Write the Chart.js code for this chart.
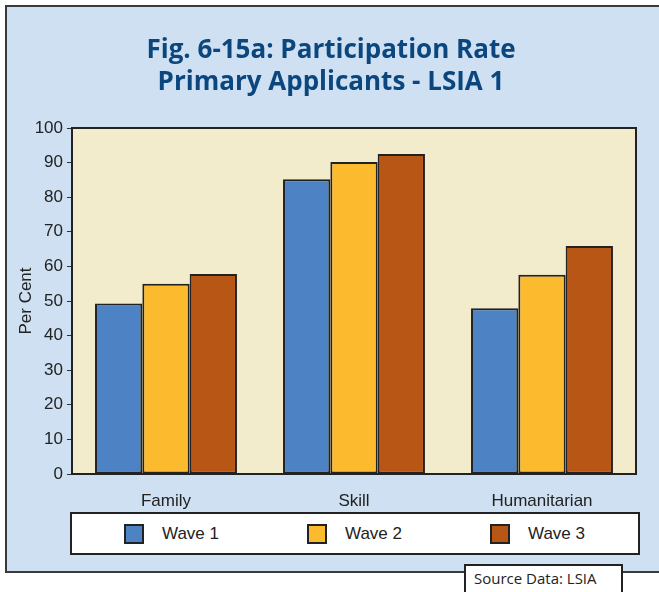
<!DOCTYPE html>
<html>
<head>
<meta charset="utf-8">
<script src="https://cdn.jsdelivr.net/npm/chart.js@4.4.3/dist/chart.umd.min.js"></script>
<style>
    html, body { margin: 0; padding: 0; background: #fff; overflow: hidden; }
    #stage { position: relative; width: 659px; height: 592px; overflow: hidden; }
    #panel {
        position: absolute; left: 5px; top: 5px; width: 700px; height: 568px;
        box-sizing: border-box; background: #cee0f1; border: 2px solid #3a3a3a;
    }
    #chart { position: absolute; left: 0; top: 0; }
    #title {
        position: absolute; left: 0; top: 32px; width: 662px; text-align: center;
        font: bold 26px "Open Sans", sans-serif; line-height: 32px; color: #0b477e;
    }
    #legend {
        position: absolute; left: 70px; top: 512px; width: 570px; height: 43px;
        box-sizing: border-box; background: #fff; border: 2px solid #222;
    }
    .swatch { position: absolute; top: 10px; width: 20px; height: 20px; box-sizing: border-box; border: 2px solid #222; }
    .label { position: absolute; top: 9px; font: 17px "Liberation Sans", Arial, sans-serif; color: #222; line-height: 22px; }
    #source {
        position: absolute; left: 464px; top: 564px; width: 159px; height: 40px;
        box-sizing: border-box; background: #fff; border: 2px solid #222;
        font: 15px "Open Sans", sans-serif; color: #222; padding: 2px 0 0 8px;
    }
</style>
</head>
<body>
<div id="stage">
    <div id="panel"></div>
    <canvas id="chart" width="659" height="592"></canvas>
    <div id="title"></div>
    <div id="legend"></div>
    <div id="source">Source Data: LSIA</div>
</div>
<script>
// Values (per cent)
const categories = ['Family', 'Skill', 'Humanitarian'];
const seriesNames = ['Wave 1', 'Wave 2', 'Wave 3'];
const wave1 = [49.3, 85.2, 47.9];
const wave2 = [55.0, 90.2, 57.6];
const wave3 = [57.8, 92.5, 65.9];
const yTicks = [0, 10, 20, 30, 40, 50, 60, 70, 80, 90, 100];
const titleLines = ['Fig. 6-15a: Participation Rate', 'Primary Applicants - LSIA 1'];

const colors = ['#4d83c5', '#fcbb2e', '#b85616'];
const edge = '#222';
const axisFont = { family: '"Liberation Sans", Arial, sans-serif', size: 17 };

// plot background + frame around chart area
const plotFrame = {
    id: 'plotFrame',
    beforeDraw(chart) {
        const { ctx, chartArea: a } = chart;
        ctx.save();
        ctx.fillStyle = '#f2ebcc';
        ctx.fillRect(a.left, a.top, a.right - a.left, a.bottom - a.top);
        ctx.restore();
    },
    afterDatasetsDraw(chart) {
        const { ctx, chartArea: a } = chart;
        ctx.save();
        ctx.strokeStyle = edge;
        ctx.lineWidth = 2;
        ctx.strokeRect(a.left, a.top, a.right - a.left, a.bottom - a.top);
        ctx.restore();
    }
};

const datasets = [wave1, wave2, wave3].map((vals, i) => ({
    label: seriesNames[i],
    data: vals,
    backgroundColor: colors[i],
    borderColor: edge,
    borderWidth: 2,
    borderSkipped: false,
    categoryPercentage: 0.755,
    barPercentage: 1.0
}));

const chart = new Chart(document.getElementById('chart'), {
    type: 'bar',
    data: { labels: categories, datasets },
    options: {
        responsive: false,
        animation: false,
        devicePixelRatio: 1,
        layout: { padding: { left: 6, right: 23, top: 128, bottom: 78 } },
        scales: {
            x: {
                grid: { display: false },
                border: { display: false },
                ticks: { font: axisFont, color: edge, padding: 9 },
                afterFit(scale) { scale.height = 40; }
            },
            y: {
                min: 0,
                max: 100,
                afterBuildTicks(scale) { scale.ticks = yTicks.map(v => ({ value: v })); },
                ticks: { font: axisFont, color: edge, padding: 4 },
                grid: { drawOnChartArea: false, drawTicks: true, tickLength: 5, color: '#333', lineWidth: 1 },
                border: { display: false },
                title: {
                    display: true, text: 'Per Cent', color: edge,
                    font: axisFont, padding: { top: 10, bottom: 0 }
                },
                afterFit(scale) { scale.width = 66; }
            }
        },
        plugins: {
            legend: { display: false },
            tooltip: { enabled: false },
            title: { display: false }
        }
    },
    plugins: [plotFrame]
});

// title text
const titleEl = document.getElementById('title');
titleLines.forEach(line => {
    const d = document.createElement('div');
    d.textContent = line;
    titleEl.appendChild(d);
});

// HTML legend built from the datasets
const legend = document.getElementById('legend');
chart.data.datasets.forEach((ds, i) => {
    const sw = document.createElement('div');
    sw.className = 'swatch';
    sw.style.left = (52 + i * 183) + 'px';
    sw.style.background = ds.backgroundColor;
    legend.appendChild(sw);
    const lb = document.createElement('div');
    lb.className = 'label';
    lb.style.left = (90 + i * 183) + 'px';
    lb.textContent = ds.label;
    legend.appendChild(lb);
});
</script>
</body>
</html>
